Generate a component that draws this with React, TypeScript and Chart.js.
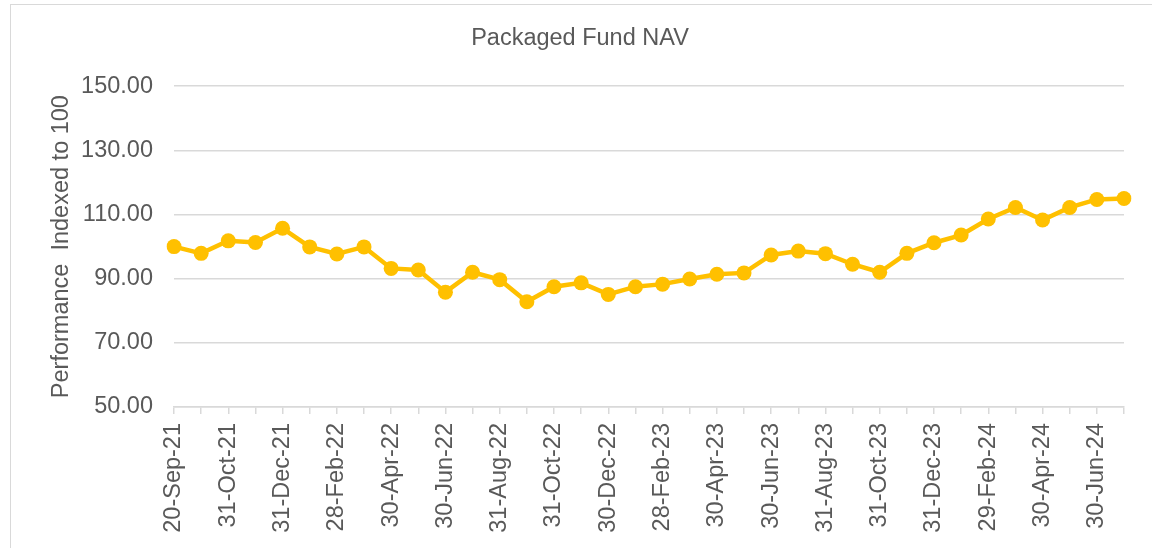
import React, { useEffect, useRef } from "react";
import { Chart, registerables } from "chart.js";

Chart.register(...registerables);

const categories: string[] = [
  "20-Sep-21", "30-Sep-21", "31-Oct-21", "30-Nov-21", "31-Dec-21", "31-Jan-22",
  "28-Feb-22", "31-Mar-22", "30-Apr-22", "31-May-22", "30-Jun-22", "31-Jul-22",
  "31-Aug-22", "30-Sep-22", "31-Oct-22", "30-Nov-22", "30-Dec-22", "31-Jan-23",
  "28-Feb-23", "31-Mar-23", "30-Apr-23", "31-May-23", "30-Jun-23", "31-Jul-23",
  "31-Aug-23", "30-Sep-23", "31-Oct-23", "30-Nov-23", "31-Dec-23", "31-Jan-24",
  "29-Feb-24", "31-Mar-24", "30-Apr-24", "31-May-24", "30-Jun-24", "31-Jul-24",
];

const navValues: number[] = [
  100.0, 97.9, 101.8, 101.3, 105.7, 99.9,
  97.7, 99.9, 93.2, 92.7, 85.8, 92.0,
  89.7, 82.8, 87.5, 88.7, 85.1, 87.5,
  88.3, 89.9, 91.4, 91.8, 97.4, 98.6,
  97.8, 94.5, 92.0, 97.9, 101.2, 103.6,
  108.6, 112.2, 108.3, 112.2, 114.7, 115.0,
];

const yTicks: number[] = [50, 70, 90, 110, 130, 150];

const chartTitle = "Packaged Fund NAV";
const yAxisTitle = "Performance  Indexed to 100";

export default function App() {
  const canvasRef = useRef<HTMLCanvasElement | null>(null);

  useEffect(() => {
    if (!canvasRef.current) return;
    const font = { family: "'Liberation Sans', Arial, sans-serif", size: 23.5 };
    const textColor = "#595959";
    const gridColor = "#d9d9d9";
    const chart = new Chart(canvasRef.current, {
      type: "line",
      data: {
        labels: categories,
        datasets: [
          {
            label: chartTitle,
            data: navValues,
            borderColor: "#FFC000",
            backgroundColor: "#FFC000",
            pointBackgroundColor: "#FFC000",
            pointBorderColor: "#FFC000",
            borderWidth: 4.5,
            pointRadius: 7.5,
            pointBorderWidth: 0,
            tension: 0,
          },
        ],
      },
      options: {
        animation: false,
        responsive: false,
        maintainAspectRatio: false,
        layout: { padding: { left: 36, right: 28, top: 0, bottom: 0 } },
        plugins: {
          legend: { display: false },
          tooltip: { enabled: false },
          title: {
            display: true,
            text: chartTitle,
            color: textColor,
            font: { ...font, weight: "normal" },
            padding: { top: 24, bottom: 34 },
          },
        },
        scales: {
          x: {
            type: "category",
            offset: false,
            grid: {
              display: true,
              drawOnChartArea: false,
              drawTicks: true,
              tickLength: 7,
              color: gridColor,
              lineWidth: 1.5,
            },
            border: { display: true, color: gridColor, width: 1.5 },
            ticks: {
              autoSkip: false,
              minRotation: 90,
              maxRotation: 90,
              padding: 9,
              color: textColor,
              font,
              callback: (_v: any, i: number) => (i % 2 === 0 ? categories[i] : ""),
            },
            afterFit: (scale: any) => {
              scale.height = 141;
              scale.paddingLeft = 0;
              scale.paddingRight = 0;
            },
          },
          y: {
            min: 50,
            max: 150,
            afterBuildTicks: (scale: any) => {
              scale.ticks = yTicks.map((v) => ({ value: v }));
            },
            grid: { color: gridColor, lineWidth: 1.5, drawTicks: false },
            border: { display: false },
            ticks: {
              padding: 21,
              color: textColor,
              font,
              callback: (v: any) => Number(v).toFixed(2),
            },
            title: {
              display: true,
              text: yAxisTitle,
              color: textColor,
              font,
              padding: { top: 11, bottom: 0 },
            },
            afterFit: (scale: any) => {
              scale.width = 138;
            },
          },
        },
      },
    });
    return () => chart.destroy();
  }, []);

  return (
    <div
      style={{
        position: "fixed",
        left: 0,
        top: 0,
        width: 1152,
        height: 548,
        overflow: "hidden",
        background: "#ffffff",
      }}
    >
      <div
        style={{
          position: "absolute",
          left: 10,
          top: 4,
          width: 1300,
          height: 700,
          borderLeft: "1.5px solid #d9d9d9",
          borderTop: "1.5px solid #d9d9d9",
          boxSizing: "border-box",
        }}
      />
      <canvas
        ref={canvasRef}
        width={1152}
        height={548}
        style={{ position: "absolute", left: 0, top: 0, width: 1152, height: 548 }}
      />
    </div>
  );
}
